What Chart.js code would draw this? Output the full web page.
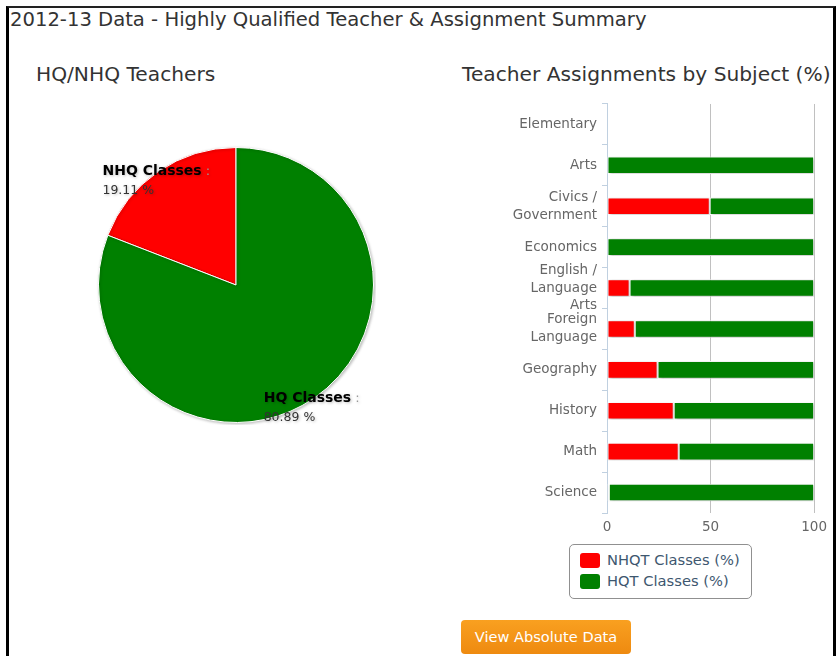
<!DOCTYPE html>
<html>
<head>
<meta charset="utf-8">
<script src="https://cdn.jsdelivr.net/npm/chart.js@4.4.0/dist/chart.umd.min.js"></script>
<style>
  body { margin: 0; background: #fff; font-family: "DejaVu Sans", sans-serif; }
  .box { position: absolute; left: 6px; top: 6px; width: 824px; height: 700px;
         border: 3px solid #000; border-top: 2px solid #222; }
  .title { position: absolute; left: 10px; top: 8px; font-size: 19.6px; color: #333; white-space: nowrap; }
  .sub { position: absolute; font-size: 20.2px; color: #333; white-space: nowrap; }
  #pieWrap { position: absolute; left: 96px; top: 145px; width: 280px; height: 280px; }
  #barWrap { position: absolute; left: 482px; top: 90px; width: 351px; height: 452px; }
  #legend { position: absolute; left: 569px; top: 544px; width: 183px; height: 55px;
            border: 1px solid #909090; border-radius: 5px; box-sizing: border-box; padding: 6px 0 0 10px; }
  .item { font-size: 14.7px; color: #3E576F; height: 21px; line-height: 18px; white-space: nowrap; }
  .sw { display: inline-block; width: 20px; height: 15px; border-radius: 3px; vertical-align: -3px; margin-right: 7px; }
  .btn { position: absolute; left: 461px; top: 620px; width: 170px; height: 34px; border-radius: 4px;
         background: linear-gradient(#f9a020, #ee8a10); color: #fff; font-size: 14.6px;
         line-height: 34px; text-align: center; white-space: nowrap; }
</style>
</head>
<body>
<div class="box"></div>
<div class="title">2012-13 Data - Highly Qualified Teacher &amp; Assignment Summary</div>
<div class="sub" style="left:36px; top:62px;">HQ/NHQ Teachers</div>
<div class="sub" style="left:462px; top:62px;">Teacher Assignments by Subject (%)</div>
<div id="pieWrap"><canvas id="pie"></canvas></div>
<div id="barWrap"><canvas id="bar"></canvas></div>
<div id="legend"></div>
<div class="btn">View Absolute Data</div>
<script>
const pieLabels = ['NHQ Classes', 'HQ Classes'];
const pieValues = [19.11, 80.89];
const pieColors = ['#ff0000', '#008000'];

const categories = [
  'Elementary',
  'Arts',
  ['Civics /', 'Government'],
  'Economics',
  ['English /', 'Language', 'Arts'],
  ['Foreign', 'Language'],
  'Geography',
  'History',
  'Math',
  'Science'
];
const nhqtValues = [0, 0, 49.6, 0, 10.9, 13.4, 24.4, 32.2, 34.6, 0.9];
const hqtValues = [0, 100, 50.4, 100, 89.1, 86.6, 75.6, 67.8, 65.4, 99.1];
const seriesNames = ['NHQT Classes (%)', 'HQT Classes (%)'];
const xTicks = [0, 50, 100];

// labels drawn on the pie slices
const pieLabelPlugin = {
  id: 'pieLabels',
  afterDatasetsDraw(chart) {
    const ctx = chart.ctx;
    const meta = chart.getDatasetMeta(0);
    meta.data.forEach((arc, i) => {
      const mid = (arc.startAngle + arc.endAngle) / 2;
      const ax = arc.x + Math.cos(mid) * arc.outerRadius - 2;
      const ay = arc.y + Math.sin(mid) * arc.outerRadius + 9;
      const l1 = pieLabels[i];
      const l2 = pieValues[i].toFixed(2) + ' %';
      ctx.save();
      ctx.font = 'bold 14px "DejaVu Sans"';
      const w1 = ctx.measureText(l1).width;
      ctx.font = '13px "DejaVu Sans"';
      const wc = ctx.measureText(' :').width;
      const left = ax - (w1 + wc) / 2;
      ctx.textBaseline = 'middle';
      ctx.fillStyle = '#000';
      ctx.font = 'bold 14px "DejaVu Sans"';
      ctx.fillText(l1, left, ay - 9);
      ctx.fillStyle = '#999';
      ctx.font = '13px "DejaVu Sans"';
      ctx.fillText(' :', left + w1, ay - 9);
      ctx.fillStyle = '#333';
      ctx.font = '12.5px "DejaVu Sans"';
      ctx.fillText(l2, left, ay + 10);
      ctx.restore();
    });
  }
};

new Chart(document.getElementById('pie'), {
  type: 'pie',
  data: {
    labels: pieLabels,
    datasets: [{
      data: pieValues,
      backgroundColor: pieColors,
      borderColor: '#ffffff',
      borderWidth: 1
    }]
  },
  options: {
    responsive: true,
    maintainAspectRatio: false,
    animation: false,
    rotation: -pieValues[0] / 100 * 360,
    layout: { padding: 2 },
    plugins: { legend: { display: false }, tooltip: { enabled: false } }
  },
  plugins: [pieLabelPlugin, {
    id: 'pieShadow',
    beforeDatasetsDraw(chart) {
      const ctx = chart.ctx;
      ctx.save();
      ctx.shadowColor = 'rgba(0,0,0,0.25)';
      ctx.shadowBlur = 3;
      ctx.shadowOffsetX = 1;
      ctx.shadowOffsetY = 1;
    },
    afterDatasetsDraw(chart) { chart.ctx.restore(); }
  }]
});

const barShadow = {
  id: 'barShadow',
  beforeDatasetsDraw(chart) {
    const ctx = chart.ctx;
    ctx.save();
    ctx.shadowColor = 'rgba(0,0,0,0.3)';
    ctx.shadowBlur = 3;
    ctx.shadowOffsetX = 1;
    ctx.shadowOffsetY = 1;
  },
  afterDatasetsDraw(chart) { chart.ctx.restore(); }
};

const barChart = new Chart(document.getElementById('bar'), {
  type: 'bar',
  data: {
    labels: categories,
    datasets: [
      { label: seriesNames[0], data: nhqtValues, backgroundColor: pieColors[0],
        borderColor: '#ffffff', borderWidth: 1, borderSkipped: false },
      { label: seriesNames[1], data: hqtValues, backgroundColor: pieColors[1],
        borderColor: '#ffffff', borderWidth: 1, borderSkipped: false }
    ]
  },
  options: {
    indexAxis: 'y',
    responsive: true,
    maintainAspectRatio: false,
    animation: false,
    layout: { padding: { top: 0, right: 14, left: 0, bottom: 0 } },
    datasets: { bar: { categoryPercentage: 1, barPercentage: 0.43 } },
    scales: {
      x: {
        stacked: true,
        min: 0, max: 100,
        afterBuildTicks(scale) { scale.ticks = xTicks.map(v => ({ value: v })); },
        afterFit(scale) { scale.height = 29; },
        border: { display: false },
        grid: {
          color: ctx => ctx.tick && ctx.tick.value === 0 ? 'rgba(0,0,0,0)' : '#c0c0c0',
          drawTicks: false
        },
        ticks: { color: '#666', font: { family: 'DejaVu Sans', size: 13.5 }, padding: 6, maxRotation: 0 }
      },
      y: {
        stacked: true,
        afterFit(scale) { scale.width = 125; },
        border: { color: '#c0d0e0', width: 1 },
        grid: { drawOnChartArea: false, color: '#c0d0e0', tickLength: 5 },
        ticks: { color: '#666', font: { family: 'DejaVu Sans', size: 13.5, lineHeight: 1.33 }, padding: 5, autoSkip: false }
      }
    },
    plugins: { legend: { display: false }, tooltip: { enabled: false } }
  },
  plugins: [barShadow]
});

// legend box built from the bar datasets
const legend = document.getElementById('legend');
barChart.data.datasets.forEach(ds => {
  const row = document.createElement('div');
  row.className = 'item';
  row.innerHTML = '<span class="sw" style="background:' + ds.backgroundColor + '"></span>' + ds.label;
  legend.appendChild(row);
});
</script>
</body>
</html>
